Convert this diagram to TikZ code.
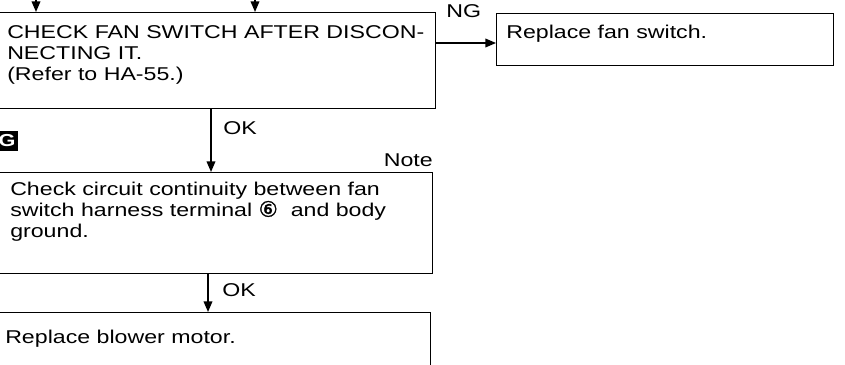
\documentclass[tikz,border=0pt]{standalone}
\usepackage{fontspec}
\setmainfont{Liberation Sans}[FakeStretch=1.25]
\newfontfamily\circfont{DejaVu Sans}[FakeBold=1.5]
\usetikzlibrary{arrows.meta,positioning,calc}

\begin{document}
\begin{tikzpicture}[
  x=.75pt,
  y=-.75pt,
  box/.style={
    draw=black,
    line width=1.1pt,
    anchor=north west,
    inner sep=0pt
  },
  boxtext/.style={
    anchor=base west,
    inner sep=0pt,
    align=left,
    font=\fontsize{13.9}{15.75}\selectfont
  },
  tag/.style={anchor=base west, inner sep=0pt, font=\fontsize{13.9}{15.75}\selectfont},
  badge/.style={
    fill=black,
    text=white,
    minimum width=16.5pt,
    minimum height=15pt,
    inner sep=0pt,
    font=\bfseries\fontsize{13}{13}\selectfont
  },
  flow/.style={-{Triangle[length=8pt,width=6.5pt]}, draw=black, line width=1.1pt}
]

\useasboundingbox (0,0) rectangle (845,364);

% boxes
\node[box, minimum width=330pt, minimum height=72pt] (check) at (-5,12) {};
\node[box, minimum width=252.75pt, minimum height=39pt] (fanswitch) at (496,13) {};
\node[box, minimum width=327.75pt, minimum height=75.75pt] (circuit) at (-5,172) {};
\node[box, minimum width=326.25pt, minimum height=45pt] (blower) at (-5,312) {};

% texts
\node[boxtext, anchor=north west] (checktext) at (7,25)
  {CHECK FAN SWITCH AFTER DISCON-\\NECTING IT.\\(Refer to HA-55.)};
\node[boxtext] (fantext) at (506,38) {Replace fan switch.};
\node[boxtext, anchor=north west] (circuittext) at (10,182)
  {Check circuit continuity between fan\\switch harness terminal {\circfont\fontsize{16}{16}\selectfont ⑥}\ \ and body\\ground.};
\node[boxtext] (blowertext) at (5,343) {Replace blower motor.};

\node[badge] (stepG) at (7,141) {G};
\node[tag, anchor=base east] (note) at (433,166) {Note};

% connectors
\coordinate (inleft) at (36,-2);
\coordinate (inright) at (255,-2);
\coordinate (ngstart) at (435,43);
\coordinate (okA) at (211,108);
\coordinate (okB) at (208,273);

\draw[flow] (inleft) -- (inleft |- check.north);
\draw[flow] (inright) -- (inright |- check.north);
\draw[flow] (ngstart) -- (ngstart -| fanswitch.west);
\draw[flow] (okA) -- (okA |- circuit.north);
\draw[flow] (okB) -- (okB |- blower.north);

\node[tag] (ng) at (446,17) {NG};
\node[tag] (okone) at (223,134) {OK};
\node[tag] (oktwo) at (222,296) {OK};
\end{tikzpicture}
\end{document}
